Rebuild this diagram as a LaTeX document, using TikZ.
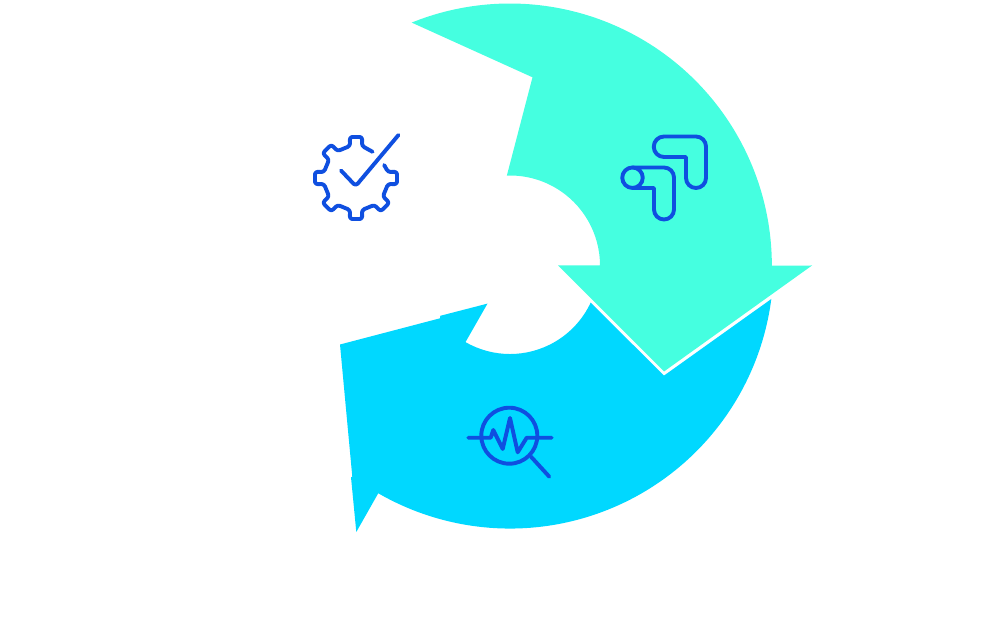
\documentclass[tikz,border=0pt]{standalone}
\usepackage{xcolor}
\usepackage{tikz}

\definecolor{mintgreen}{HTML}{45FFE0}
\definecolor{skyblue}{HTML}{00D8FF}
\definecolor{iconblue}{HTML}{0F4FE0}

\begin{document}
\begin{tikzpicture}[x=1pt, y=-1pt, iconline/.style={draw=iconblue, line width=3.9pt, line cap=round, line join=round}]
    \useasboundingbox (0,0) rectangle (1004,628);

    % Mũi tên màu xanh dương
    \fill[skyblue] (771.3,299) arc[start angle=7.4, end angle=120, radius=263.5]
        -- (356.3,532) -- (351,477.3) -- (352.3,476.7) -- (340,344.5) -- (440,318.3)
        -- (440.3,315.8) -- (487.5,303.6)
        -- (465.5,342.1) arc[start angle=120, end angle=25, radius=89]
        -- (664,375.6) -- cycle;

    % Mũi tên màu xanh lục
    \fill[mintgreen] (411.7,22.6) arc[start angle=-112, end angle=0, radius=262]
        -- (812,265.5) -- (664,371.5) -- (558,265.5) -- (600,265.5)
        arc[start angle=0, end angle=-92, radius=90]
        -- (532.5,77.3) -- cycle;

    % Biểu tượng bánh răng
    \begin{scope}[shift={(356,178)}]
        \draw[iconline, rounded corners=2.5pt] (-24.7:31)
            \foreach \a in {0,45,...,270} { -- (\a-10.6:32.6) -- (\a-8.5:41.5) -- (\a+8.5:41.5) -- (\a+10.6:32.6) }
            -- (-57.6:31);
    \end{scope}
    \draw[iconline, rounded corners=3pt] (341,170.5) -- (355.7,186) -- (398.5,135);

    % Biểu tượng hai mũi tên gấp
    \draw[iconline] (664,136.5) -- (696,136.5) arc[start angle=-90, end angle=0, radius=10]
        -- (706,178) arc[start angle=0, end angle=180, radius=10]
        -- (686,157) -- (664,157) arc[start angle=90, end angle=270, radius=10.25] -- cycle;
    \draw[iconline] (632.5,167.5) -- (664,167.5) arc[start angle=-90, end angle=0, radius=10]
        -- (674,209.5) arc[start angle=0, end angle=180, radius=10]
        -- (654,188) -- (632.5,188);
    \draw[iconline] (632.5,177.7) circle[radius=10.25];

    % Biểu tượng kính lúp
    \draw[iconline] (509.3,435.7) circle[radius=28];
    \draw[iconline] (531,456.7) -- (549.3,476.7);
    \draw[iconline] (468.3,437.7) -- (490.7,437.7) -- (493.3,430) -- (502.7,449) -- (510,418)
        -- (517.7,452.3) -- (526.7,437.7) -- (551.7,437.7);
\end{tikzpicture}
\end{document}
